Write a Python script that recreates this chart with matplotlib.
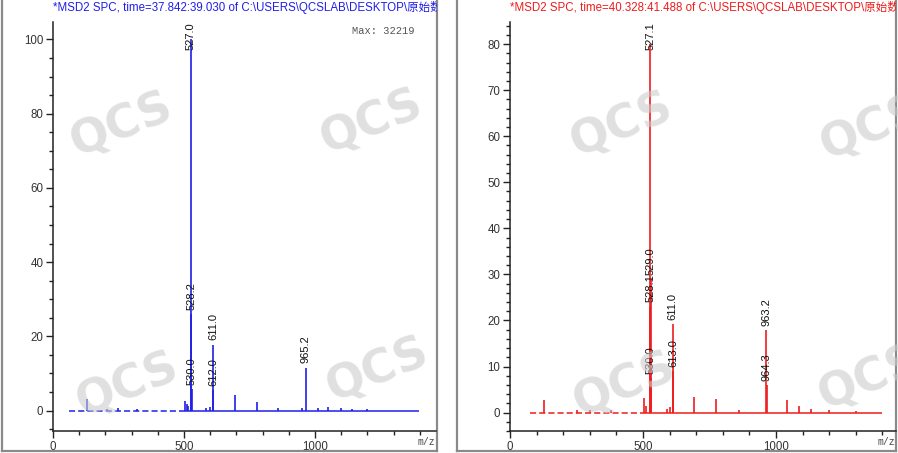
import numpy as np
import matplotlib
matplotlib.use('Agg')
import matplotlib.pyplot as plt
from matplotlib.ticker import MultipleLocator, FormatStrFormatter

plt.rcParams['font.family'] = ['Liberation Sans', 'Noto Sans CJK SC']

# Data
left_title = "*MSD2 SPC, time=37.842:39.030 of C:\\USERS\\QCSLAB\\DESKTOP\\原始数据\\"
left_mz = [130, 205, 250, 320, 505, 510, 515, 527.0, 528.2, 530.0, 585, 600,
           611.0, 612.0, 695, 780, 860, 950, 965.2, 1010, 1050, 1100, 1140, 1200]
left_int = [3.0, 0.4, 0.6, 0.5, 2.7, 1.8, 1.2, 100, 26, 5.8, 0.8, 1.0,
            17.8, 5.5, 4.3, 2.2, 0.7, 0.7, 11.6, 0.8, 0.9, 0.6, 0.5, 0.4]
left_labels = [527.0, 528.2, 530.0, 611.0, 612.0, 965.2]
left_max = "Max: 32219"
left_base = [60, 500, 1398]

right_title = "*MSD2 SPC, time=40.328:41.488 of C:\\USERS\\QCSLAB\\DESKTOP\\原始数据\\"
right_mz = [128, 250, 300, 380, 505, 512, 527.1, 528.1, 529.0, 530.0, 590, 600,
            611.0, 613.0, 690, 775, 860, 963.2, 964.3, 1040, 1085, 1130, 1200, 1300]
right_int = [2.7, 0.6, 0.5, 0.6, 3.1, 1.5, 80, 23, 29, 7.5, 0.8, 1.2,
             19.2, 9.0, 3.4, 2.9, 0.6, 18.0, 6.0, 2.7, 1.4, 0.8, 0.6, 0.3]
right_labels = [527.1, 528.1, 529.0, 530.0, 611.0, 613.0, 963.2, 964.3]
right_base = [75, 500, 1398]

W, H = 898, 453
fig = plt.figure(figsize=(W / 100, H / 100), dpi=100)


def px_rect(x0, y0, x1, y1):
    # pixel box (top-left origin) -> figure fraction
    return [x0 / W, 1 - y1 / H, (x1 - x0) / W, (y1 - y0) / H]


def panel(frame_box, ax_box, title, color, mz, inten, labels, base,
          ylim, xmax, ymajor, yminor, maxtext=None):
    fr = fig.add_axes(px_rect(*frame_box), zorder=0)
    fr.set_xticks([])
    fr.set_yticks([])
    for s in fr.spines.values():
        s.set_color('#8a8a8a')
        s.set_linewidth(1.6)
    # title, clipped by the frame
    tx = (ax_box[0] - frame_box[0]) / (frame_box[2] - frame_box[0])
    ty = 1 - (8 - frame_box[1]) / (frame_box[3] - frame_box[1])
    fr.text(tx, ty, title, color=color, fontsize=8.3, va='center', ha='left',
            clip_on=True, transform=fr.transAxes)

    ax = fig.add_axes(px_rect(*ax_box), zorder=1)
    ax.patch.set_alpha(0)
    ax.set_xlim(0, xmax)
    ax.set_ylim(*ylim)
    for s in ['top', 'right']:
        ax.spines[s].set_visible(False)
    for s in ['left', 'bottom']:
        ax.spines[s].set_color('#222222')
        ax.spines[s].set_linewidth(1.1)
    ax.xaxis.set_major_locator(MultipleLocator(500))
    ax.xaxis.set_minor_locator(MultipleLocator(100))
    ax.yaxis.set_major_locator(MultipleLocator(ymajor))
    ax.yaxis.set_minor_locator(MultipleLocator(yminor))
    ax.xaxis.set_major_formatter(FormatStrFormatter('%d'))
    ax.yaxis.set_major_formatter(FormatStrFormatter('%d'))
    ax.tick_params(which='major', length=5, width=1, colors='#222222',
                   labelsize=8.3, labelcolor='#333333', pad=2)
    ax.tick_params(which='minor', length=3, width=1, colors='#222222')

    # baseline: broken below 500, continuous after
    ax.hlines(0, base[0], base[1], color=color, lw=1.1, linestyles=(0, (4, 2)))
    ax.hlines(0, base[1], base[2], color=color, lw=1.1)
    ax.vlines(mz, 0, inten, color=color, lw=1.2)

    top = ylim[1]
    for m, v in zip(mz, inten):
        if m not in labels:
            continue
        lab = f"{m:.1f}"
        if v > 0.85 * top:
            ax.annotate(lab, (m, top), xytext=(0, 0), textcoords='offset points',
                        rotation=90, ha='center', va='top', fontsize=8,
                        color='#111111')
        else:
            ax.annotate(lab, (m, v), xytext=(0, 3), textcoords='offset points',
                        rotation=90, ha='center', va='bottom', fontsize=8,
                        color='#111111')

    ax.text(0.997, -0.027, 'm/z', transform=ax.transAxes, ha='right',
            va='center', fontsize=7, family='Liberation Mono', color='#444444')
    if maxtext:
        ax.text(0.945, 0.978, maxtext, transform=ax.transAxes, ha='right',
                va='center', fontsize=7.5, family='Liberation Mono',
                color='#555555')
    return ax


panel((2, -6, 437, 451), (53, 22, 436, 431), left_title, '#1f1fe8',
      left_mz, left_int, left_labels, left_base,
      (-5.5, 104.7), 1462, 20, 5, left_max)
panel((457, -6, 896, 451), (510, 22, 896, 431), right_title, '#ee1c1c',
      right_mz, right_int, right_labels, right_base,
      (-4.0, 84.8), 1451, 10, 2)

# QCS watermarks (the two on the right edge are cut off in the original too)
marks = [(122, 125), (372, 122), (128, 385), (378, 370),
         (622, 125), (872, 128), (625, 385), (870, 378)]
for x, y in marks:
    fig.text(x / W, 1 - y / H, 'QCS', fontsize=33, fontweight='bold',
             family='DejaVu Sans', color='#cccccc', alpha=0.6, rotation=22,
             ha='center', va='center', zorder=5)

fig.savefig('out.png', dpi=100)
